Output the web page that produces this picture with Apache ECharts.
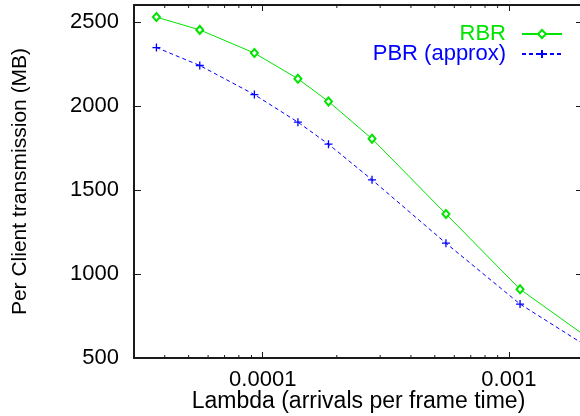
<!DOCTYPE html>
<html>
<head>
<meta charset="utf-8">
<script src="https://cdn.jsdelivr.net/npm/echarts@6/dist/echarts.min.js"></script>
<style>
html,body{margin:0;padding:0;background:#fff;}
#chart{width:580px;height:416px;}
</style>
</head>
<body>
<div id="chart"></div>
<script>
// Data
var lambda = [3.7e-5, 5.55e-5, 9.25e-5, 1.39e-4, 1.85e-4, 2.78e-4, 5.55e-4, 1.11e-3, 2.22e-3];
var rbr    = [2528, 2452, 2314, 2161, 2026, 1804, 1357, 909, 594];
var pbr    = [2347, 2240, 2067, 1903, 1772, 1560, 1183, 821, 542];
var seriesNames = ['RBR', 'PBR (approx)'];
var xMin = 3e-5, xMax = 2e-3;
var yMin = 500, yMax = 2600, yStep = 500;
var minorTickValues = [4e-5, 5e-5, 6e-5, 7e-5, 8e-5, 9e-5, 2e-4, 3e-4, 4e-4, 5e-4, 6e-4, 7e-4, 8e-4, 9e-4];
var xTickLabels = {'-4': '0.0001', '-3': '0.001'};

var FONT = 'Liberation Sans';
var FS = 22;
var GREEN = '#00e400';
var BLUE = '#0000ff';
var AXIS = '#1a1a1a';

function pairs(xs, ys) { return xs.map(function (x, i) { return [x, ys[i]]; }); }

var chart = echarts.init(document.getElementById('chart'), null, {renderer: 'canvas'});
var option = {
  animation: false,
  backgroundColor: '#ffffff',
  textStyle: {fontFamily: FONT},
  grid: {left: 134, top: 5, width: 449, bottom: 58, containLabel: false, outerBoundsMode: 'none'},
  legend: {
    orient: 'vertical',
    right: 12,
    top: 18,
    align: 'right',
    itemWidth: 40,
    itemHeight: 10,
    itemGap: -2,
    data: [
      {name: seriesNames[0], textStyle: {color: GREEN}},
      {name: seriesNames[1], textStyle: {color: BLUE}}
    ],
    textStyle: {fontFamily: FONT, fontSize: 22, lineHeight: 17, padding: [0, 11, 0, 0]}
  },
  xAxis: [{
    type: 'log', logBase: 10, min: xMin, max: xMax,
    position: 'bottom',
    name: 'Lambda (arrivals per frame time)',
    nameLocation: 'middle', nameGap: 32, nameMoveOverlap: false,
    nameTextStyle: {fontFamily: FONT, fontSize: 23, color: '#000'},
    axisLine: {show: true, onZero: false, lineStyle: {color: AXIS, width: 2}},
    axisTick: {show: true, inside: true, length: 6, lineStyle: {color: AXIS, width: 1}},
    axisLabel: {
      show: true, margin: 11, color: '#000', fontFamily: FONT, fontSize: FS,
      showMinLabel: false, showMaxLabel: false,
      formatter: function (v) {
        var e = Math.round(Math.log10(v));
        if (Math.abs(Math.log10(v) - e) > 1e-6) return '';
        return xTickLabels[String(e)] || '';
      }
    },
    splitLine: {show: false}
  }, {
    type: 'log', logBase: 10, min: xMin, max: xMax,
    position: 'top',
    axisLine: {show: true, onZero: false, lineStyle: {color: AXIS, width: 2}},
    axisTick: {show: true, inside: true, length: 6, lineStyle: {color: AXIS, width: 1}},
    axisLabel: {show: false},
    splitLine: {show: false}
  }],
  yAxis: [{
    type: 'value', min: yMin, max: yMax, interval: yStep,
    position: 'left',
    name: 'Per Client transmission (MB)',
    nameLocation: 'middle', nameGap: 103, nameRotate: 90, nameMoveOverlap: false,
    nameTextStyle: {fontFamily: FONT, fontSize: 21, color: '#000'},
    axisLine: {show: true, onZero: false, lineStyle: {color: AXIS, width: 2}},
    axisTick: {show: true, inside: true, length: 7, lineStyle: {color: AXIS, width: 1}},
    axisLabel: {
      show: true, margin: 15, color: '#000', fontFamily: FONT, fontSize: FS, showMaxLabel: false,
      formatter: function (v) { return String(v); }
    },
    splitLine: {show: false}
  }, {
    type: 'value', min: yMin, max: yMax, interval: yStep,
    position: 'right',
    axisLine: {show: true, onZero: false, lineStyle: {color: AXIS, width: 2}},
    axisTick: {show: true, inside: true, length: 7, lineStyle: {color: AXIS, width: 1}},
    axisLabel: {show: false},
    splitLine: {show: false}
  }],
  series: [{
    name: seriesNames[0],
    type: 'line',
    xAxisIndex: 0, yAxisIndex: 0,
    data: pairs(lambda, rbr),
    clip: true,
    symbol: 'emptyDiamond',
    symbolSize: [7, 8],
    showSymbol: true,
    lineStyle: {color: GREEN, width: 1},
    itemStyle: {color: GREEN, borderColor: GREEN, borderWidth: 1.2},
    emphasis: {disabled: true}
  }, {
    name: seriesNames[1],
    type: 'line',
    xAxisIndex: 0, yAxisIndex: 0,
    data: pairs(lambda, pbr),
    clip: true,
    symbol: 'path://M0,5L10,5M5,0L5,10',
    symbolSize: 8,
    showSymbol: true,
    lineStyle: {color: BLUE, width: 1, type: [4, 3]},
    itemStyle: {color: 'none', borderColor: BLUE, borderWidth: 1.3},
    emphasis: {disabled: true}
  }, {
    name: 'minorTicks',
    type: 'custom',
    xAxisIndex: 0, yAxisIndex: 0,
    silent: true,
    data: minorTickValues.map(function (v) { return [v, yMin]; }),
    renderItem: function (params, api) {
      var cs = params.coordSys;
      var x = api.coord([api.value(0), yMin])[0];
      var bottom = cs.y + cs.height, top = cs.y;
      return {
        type: 'group',
        children: [
          {type: 'line', shape: {x1: x, y1: bottom, x2: x, y2: bottom - 3}, style: {stroke: AXIS, lineWidth: 1}},
          {type: 'line', shape: {x1: x, y1: top, x2: x, y2: top + 3}, style: {stroke: AXIS, lineWidth: 1}}
        ]
      };
    }
  }]
};
chart.setOption(option);
</script>
</body>
</html>
